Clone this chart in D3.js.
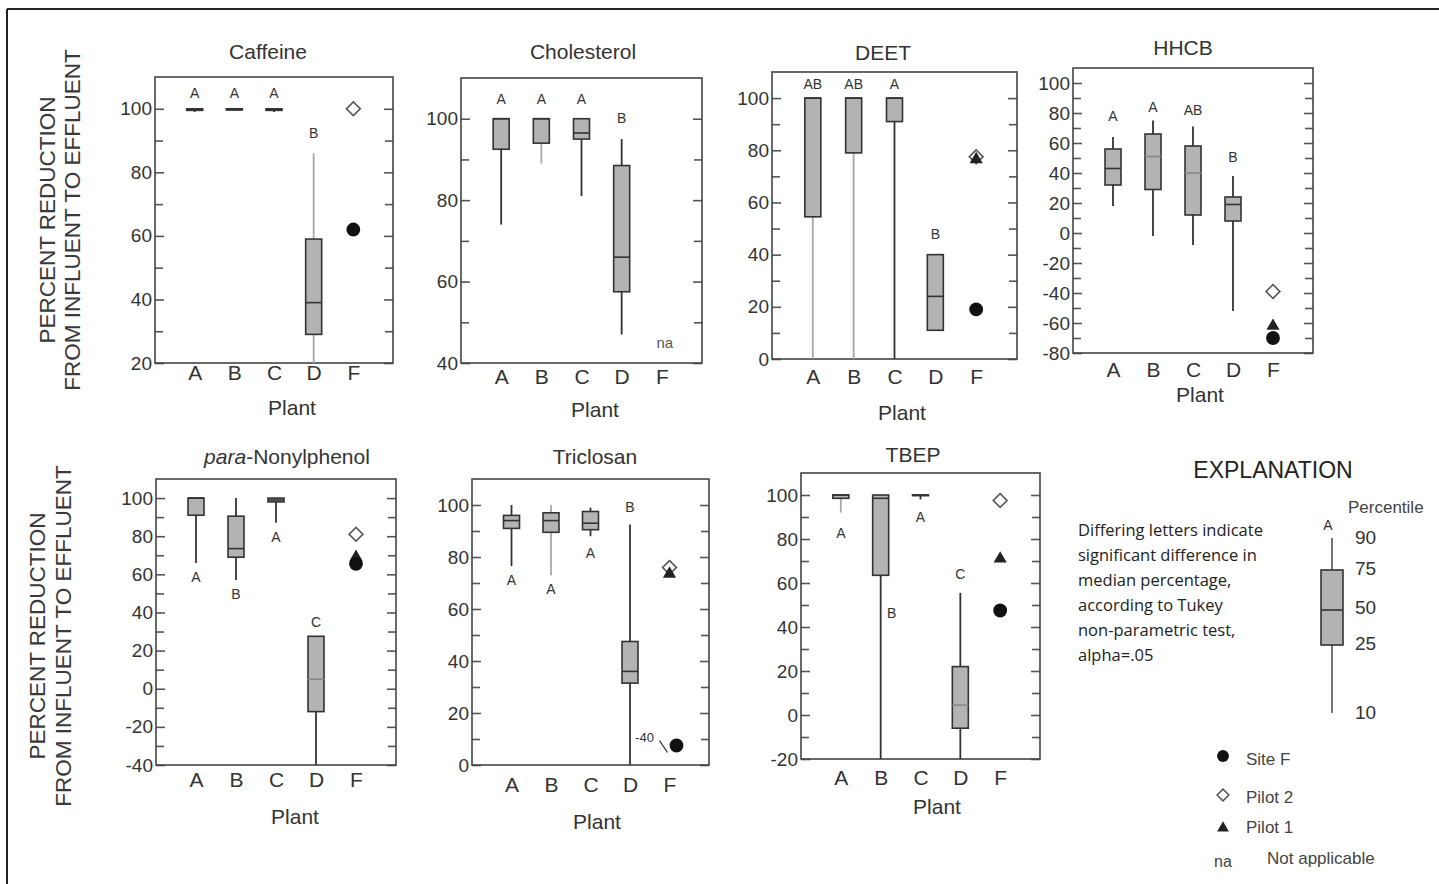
<!DOCTYPE html>
<html lang="en">
<head>
<meta charset="UTF-8">
<title>Percent reduction from influent to effluent</title>
<script src="https://d3js.org/d3.v7.min.js"></script>
<style>
  body { margin: 0; background: #fff; }
  svg { display: block; font-family: 'Liberation Sans', Arial, sans-serif; }
</style>
</head>
<body>
<svg id="chart" width="1439" height="884"></svg>
<script>
// ---- data ----
const plants = ["A", "B", "C", "D", "F"];
const compounds = ["Caffeine", "Cholesterol", "DEET", "HHCB", "para-Nonylphenol", "Triclosan", "TBEP"];
const yDomains = [[20, 110], [40, 110], [0, 110], [-80, 110], [-40, 110], [0, 110], [-20, 110]];
const majorTicks = [
  [20, 40, 60, 80, 100],
  [40, 60, 80, 100],
  [0, 20, 40, 60, 80, 100],
  [-80, -60, -40, -20, 0, 20, 40, 60, 80, 100],
  [-40, -20, 0, 20, 40, 60, 80, 100],
  [0, 20, 40, 60, 80, 100],
  [-20, 0, 20, 40, 60, 80, 100]
];

// box stats per plant A-D: [p10, p25, median, p75, p90]
const caffeineBoxes    = [[99, 99.5, 100, 100, 100], [99.3, 99.6, 100, 100, 100], [99, 99.5, 100, 100, 100], [20, 29, 39, 59, 86]];
const cholesterolBoxes = [[74, 92.5, 100, 100, 100], [89, 94, 100, 100, 100], [81, 95, 96.5, 100, 100], [47, 57.5, 66, 88.5, 95]];
const deetBoxes        = [[0, 54.5, 100, 100, 100], [0, 79, 100, 100, 100], [0, 91, 100, 100, 100], [11, 11, 24, 40, 40]];
const hhcbBoxes        = [[18, 32, 43, 56, 64], [-2, 29, 51, 66, 75], [-8, 12, 40, 58, 71], [-52, 8, 19, 24, 38]];
const nonylBoxes       = [[66, 91, 100, 100, 100], [57, 69, 73.5, 90.5, 100], [87, 98, 99, 100, 100], [-40, -12, 5, 27.5, 27.5]];
const triclosanBoxes   = [[76.5, 91, 94, 96, 100], [73, 89.5, 94, 97, 100], [88, 90.5, 93, 97.5, 99], [0, 31.5, 36, 47.5, 92.5]];
const tbepBoxes        = [[92, 98.5, 100, 100, 100], [-20, 63.5, 98.5, 100, 100], [98, 99.7, 100, 100, 100], [-20, -6, 4.5, 22, 55.5]];
const boxes = [caffeineBoxes, cholesterolBoxes, deetBoxes, hhcbBoxes, nonylBoxes, triclosanBoxes, tbepBoxes];

// single values at plant F (null = none / not applicable)
const siteF  = [62, null, 19, -70, 65.5, 7.5, 47.5];
const pilot2 = [100, null, 77.5, -39, 81, 76, 97.5];
const pilot1 = [null, null, 76.5, -62, 69, 73.5, 71];

// Tukey group letters: [plant, letter, value where it sits]
const letters = [
  [["A", "A", 105], ["B", "A", 105], ["C", "A", 105], ["D", "B", 92.4]],
  [["A", "A", 104.7], ["B", "A", 104.7], ["C", "A", 104.7], ["D", "B", 100.2]],
  [["A", "AB", 105.4], ["B", "AB", 105.4], ["C", "A", 105.4], ["D", "B", 48]],
  [["A", "A", 78], ["B", "A", 84], ["C", "AB", 82], ["D", "B", 50.7]],
  [["A", "A", 58.4], ["B", "B", 49.5], ["C", "A", 79.5], ["D", "C", 35]],
  [["A", "A", 71], ["B", "A", 67.7], ["C", "A", 81.5], ["D", "B", 99.2]],
  [["A", "A", 82.7], ["B", "B", 46.4], ["C", "A", 90], ["D", "C", 64]]
];
const naPanels = ["Cholesterol"];
const offscaleNotes = [["Triclosan", "-40"]];

// ---- layout / styling ----
const panels = [
  { left: 155, right: 393, top: 77, bottom: 363, titleX: 268, titleY: 52, labelY: 373, plantX: 292, plantY: 408 },
  { left: 461, right: 702, top: 78, bottom: 363, titleX: 583, titleY: 52, labelY: 377, plantX: 595, plantY: 410 },
  { left: 772, right: 1017, top: 72, bottom: 359, titleX: 883, titleY: 53, labelY: 377, plantX: 902, plantY: 413 },
  { left: 1073, right: 1313, top: 68, bottom: 353, titleX: 1183, titleY: 48, labelY: 370, plantX: 1200, plantY: 395 },
  { left: 156, right: 396, top: 479, bottom: 765, titleX: 287, titleY: 457, labelY: 780, plantX: 295, plantY: 817 },
  { left: 472, right: 709, top: 479, bottom: 765, titleX: 595, titleY: 457, labelY: 785, plantX: 597, plantY: 822 },
  { left: 801, right: 1040, top: 473, bottom: 759, titleX: 913, titleY: 455, labelY: 778, plantX: 937, plantY: 807 }
];
const faintWhiskers = ["Caffeine-D", "Cholesterol-B", "DEET-A", "DEET-B", "Triclosan-B", "TBEP-A"];
const faintMedians = ["HHCB-B", "HHCB-C", "para-Nonylphenol-D", "TBEP-D"];

const svg = d3.select("#chart");
const ink = "#333";
const boxW = 16;

// outer frame (top + left edge of the page figure)
svg.append("line").attr("x1", 7).attr("x2", 1439).attr("y1", 9).attr("y2", 9).attr("stroke", "#222").attr("stroke-width", 2);
svg.append("line").attr("x1", 7).attr("x2", 7).attr("y1", 9).attr("y2", 884).attr("stroke", "#222").attr("stroke-width", 2);

// y axis titles
[[220, 55, 80], [636, 45, 71]].forEach(([cy, x1, x2]) => {
  [["PERCENT REDUCTION", x1], ["FROM INFLUENT TO EFFLUENT", x2]].forEach(([t, bx]) => {
    svg.append("text")
      .attr("transform", `translate(${bx},${cy}) rotate(-90)`)
      .attr("text-anchor", "middle")
      .attr("font-size", 22.5)
      .attr("fill", "#3a3a3a")
      .text(t);
  });
});

const sym = {
  circle: d3.symbol().type(d3.symbolCircle).size(150),
  square: d3.symbol().type(d3.symbolSquare).size(95),
  triangle: d3.symbol().type(d3.symbolTriangle).size(75)
};

panels.forEach((p, i) => {
  const name = compounds[i];
  const g = svg.append("g");
  const x = d3.scalePoint().domain(plants).range([p.left, p.right]).padding(1);
  const y = d3.scaleLinear().domain(yDomains[i]).range([p.bottom, p.top]);
  const minor = majorTicks[i].slice(0, -1).map(v => v + 10);

  const clipId = "clip" + i;
  svg.append("clipPath").attr("id", clipId).append("rect")
    .attr("x", p.left).attr("y", p.top).attr("width", p.right - p.left).attr("height", p.bottom - p.top);

  // title
  const title = g.append("text")
    .attr("x", p.titleX).attr("y", p.titleY).attr("dy", "0.35em")
    .attr("text-anchor", "middle").attr("font-size", 21).attr("fill", ink);
  if (name.startsWith("para-")) {
    title.append("tspan").attr("font-style", "italic").text("para");
    title.append("tspan").text(name.slice(4));
  } else {
    title.text(name);
  }

  // y axes: ticks inward on both sides
  const leftAx = g.append("g").attr("transform", `translate(${p.left},0)`)
    .call(d3.axisLeft(y).tickValues(majorTicks[i]).tickSizeInner(-9).tickSizeOuter(0).tickPadding(3).tickFormat(d => String(d)));
  g.append("g").attr("transform", `translate(${p.left},0)`)
    .call(d3.axisLeft(y).tickValues(minor).tickSizeInner(-8).tickSizeOuter(0).tickFormat(""));
  g.append("g").attr("transform", `translate(${p.right},0)`)
    .call(d3.axisRight(y).tickValues(majorTicks[i]).tickSizeInner(-9).tickSizeOuter(0).tickFormat(""));
  g.append("g").attr("transform", `translate(${p.right},0)`)
    .call(d3.axisRight(y).tickValues(minor).tickSizeInner(-8).tickSizeOuter(0).tickFormat(""));
  g.selectAll(".domain").remove();
  g.selectAll(".tick line").attr("stroke", "#555").attr("stroke-width", 1.6);
  leftAx.selectAll("text").attr("font-size", 19).attr("fill", ink).attr("font-family", "'Liberation Sans', Arial, sans-serif");

  // x axis labels
  const xAx = g.append("g").attr("transform", `translate(0,${p.labelY})`)
    .call(d3.axisBottom(x).tickSize(0).tickPadding(0));
  xAx.select(".domain").remove();
  xAx.selectAll("text").attr("dy", "0.35em").attr("font-size", 21).attr("fill", ink)
    .attr("font-family", "'Liberation Sans', Arial, sans-serif");
  g.append("text").attr("x", p.plantX).attr("y", p.plantY).attr("dy", "0.35em")
    .attr("text-anchor", "middle").attr("font-size", 21).attr("fill", ink).text("Plant");

  // frame
  g.append("rect").attr("x", p.left).attr("y", p.top)
    .attr("width", p.right - p.left).attr("height", p.bottom - p.top)
    .attr("fill", "none").attr("stroke", "#444").attr("stroke-width", 1.6);

  // boxes
  const marks = g.append("g").attr("clip-path", `url(#${clipId})`);
  boxes[i].forEach((b, k) => {
    const plant = plants[k];
    const key = name + "-" + plant;
    const cx = x(plant);
    const [p10, q1, med, q3, p90] = b;
    const wc = faintWhiskers.includes(key) ? "#a8a8a8" : ink;
    marks.append("line").attr("x1", cx).attr("x2", cx).attr("y1", y(p10)).attr("y2", y(q1))
      .attr("stroke", wc).attr("stroke-width", 1.8);
    marks.append("line").attr("x1", cx).attr("x2", cx).attr("y1", y(q3)).attr("y2", y(p90))
      .attr("stroke", wc).attr("stroke-width", 1.8);
    marks.append("rect").attr("x", cx - boxW / 2).attr("width", boxW)
      .attr("y", y(q3)).attr("height", Math.max(0.5, y(q1) - y(q3)))
      .attr("fill", "#b3b3b3").attr("stroke", ink).attr("stroke-width", 1.6);
    marks.append("line").attr("x1", cx - boxW / 2).attr("x2", cx + boxW / 2)
      .attr("y1", y(med)).attr("y2", y(med))
      .attr("stroke", faintMedians.includes(key) ? "#888" : ink).attr("stroke-width", 1.6);
  });

  // plant F single values
  const fx = x("F");
  if (pilot2[i] !== null) {
    g.append("path").attr("d", sym.square())
      .attr("transform", `translate(${fx},${y(pilot2[i])}) rotate(45)`)
      .attr("fill", "#fff").attr("stroke", "#555").attr("stroke-width", 1.6);
  }
  if (pilot1[i] !== null) {
    g.append("path").attr("d", sym.triangle())
      .attr("transform", `translate(${fx},${y(pilot1[i])})`).attr("fill", "#222");
  }
  if (siteF[i] !== null) {
    const note = offscaleNotes.find(n => n[0] === name);
    const sx = note ? fx + 7 : fx;
    g.append("path").attr("d", sym.circle())
      .attr("transform", `translate(${sx},${y(siteF[i])})`).attr("fill", "#111");
    if (note) {
      g.append("text").attr("x", sx - 32).attr("y", y(siteF[i]) - 8).attr("dy", "0.35em")
        .attr("text-anchor", "middle").attr("font-size", 13).attr("fill", ink).text(note[1]);
      g.append("line").attr("x1", sx - 17).attr("y1", y(siteF[i]) - 5)
        .attr("x2", sx - 9).attr("y2", y(siteF[i]) + 7).attr("stroke", ink).attr("stroke-width", 1.3);
    }
  }
  if (naPanels.includes(name)) {
    g.append("text").attr("x", fx + 3).attr("y", y(45)).attr("dy", "0.35em")
      .attr("text-anchor", "middle").attr("font-size", 15).attr("fill", "#555").text("na");
  }

  // letters
  letters[i].forEach(([plant, t, v]) => {
    const dx = (name === "TBEP" && plant === "B") ? 11 : 0;
    g.append("text").attr("x", x(plant) + dx).attr("y", y(v)).attr("dy", "0.35em")
      .attr("text-anchor", "middle").attr("font-size", 14).attr("fill", ink).text(t);
  });
});

// ---- explanation ----
const lg = svg.append("g");
lg.append("text").attr("x", 1273).attr("y", 470).attr("dy", "0.35em").attr("text-anchor", "middle")
  .attr("font-size", 23).attr("fill", "#222").text("EXPLANATION");

const explLines = ["Differing letters indicate", "significant difference in", "median percentage,",
  "according to Tukey", "non-parametric test,", "alpha=.05"];
explLines.forEach((t, k) => {
  lg.append("text").attr("x", 1078).attr("y", 530 + k * 25).attr("dy", "0.35em")
    .attr("font-family", "'Open Sans', sans-serif").attr("font-size", 16.5).attr("fill", "#222").text(t);
});

// sample box
const bx = 1332;
lg.append("line").attr("x1", bx).attr("x2", bx).attr("y1", 538).attr("y2", 713).attr("stroke", "#555").attr("stroke-width", 1.6);
lg.append("rect").attr("x", bx - 11).attr("y", 570).attr("width", 22).attr("height", 75)
  .attr("fill", "#b3b3b3").attr("stroke", ink).attr("stroke-width", 1.6);
lg.append("line").attr("x1", bx - 11).attr("x2", bx + 11).attr("y1", 610).attr("y2", 610).attr("stroke", ink).attr("stroke-width", 1.6);
lg.append("text").attr("x", bx - 4).attr("y", 525).attr("dy", "0.35em").attr("text-anchor", "middle")
  .attr("font-size", 14).attr("fill", ink).text("A");
lg.append("text").attr("x", 1348).attr("y", 507).attr("dy", "0.35em")
  .attr("font-size", 17).attr("fill", "#444").text("Percentile");
[["90", 537], ["75", 568], ["50", 607], ["25", 643], ["10", 712]].forEach(([t, yy]) => {
  lg.append("text").attr("x", 1355).attr("y", yy).attr("dy", "0.35em")
    .attr("font-size", 19).attr("fill", ink).text(t);
});

// symbol key
lg.append("path").attr("d", d3.symbol().type(d3.symbolCircle).size(110)()).attr("transform", "translate(1223,756)").attr("fill", "#111");
lg.append("path").attr("d", d3.symbol().type(d3.symbolSquare).size(70)()).attr("transform", "translate(1223,795) rotate(45)")
  .attr("fill", "#fff").attr("stroke", "#555").attr("stroke-width", 1.5);
lg.append("path").attr("d", d3.symbol().type(d3.symbolTriangle).size(60)()).attr("transform", "translate(1223,828)").attr("fill", "#222");
[["Site F", 759], ["Pilot 2", 797], ["Pilot 1", 827]].forEach(([t, yy]) => {
  lg.append("text").attr("x", 1246).attr("y", yy).attr("dy", "0.35em").attr("font-size", 17).attr("fill", "#444").text(t);
});
lg.append("text").attr("x", 1223).attr("y", 861).attr("dy", "0.35em").attr("text-anchor", "middle")
  .attr("font-size", 16).attr("fill", "#444").text("na");
lg.append("text").attr("x", 1267).attr("y", 858).attr("dy", "0.35em")
  .attr("font-size", 17).attr("fill", "#444").text("Not applicable");
</script>
</body>
</html>
